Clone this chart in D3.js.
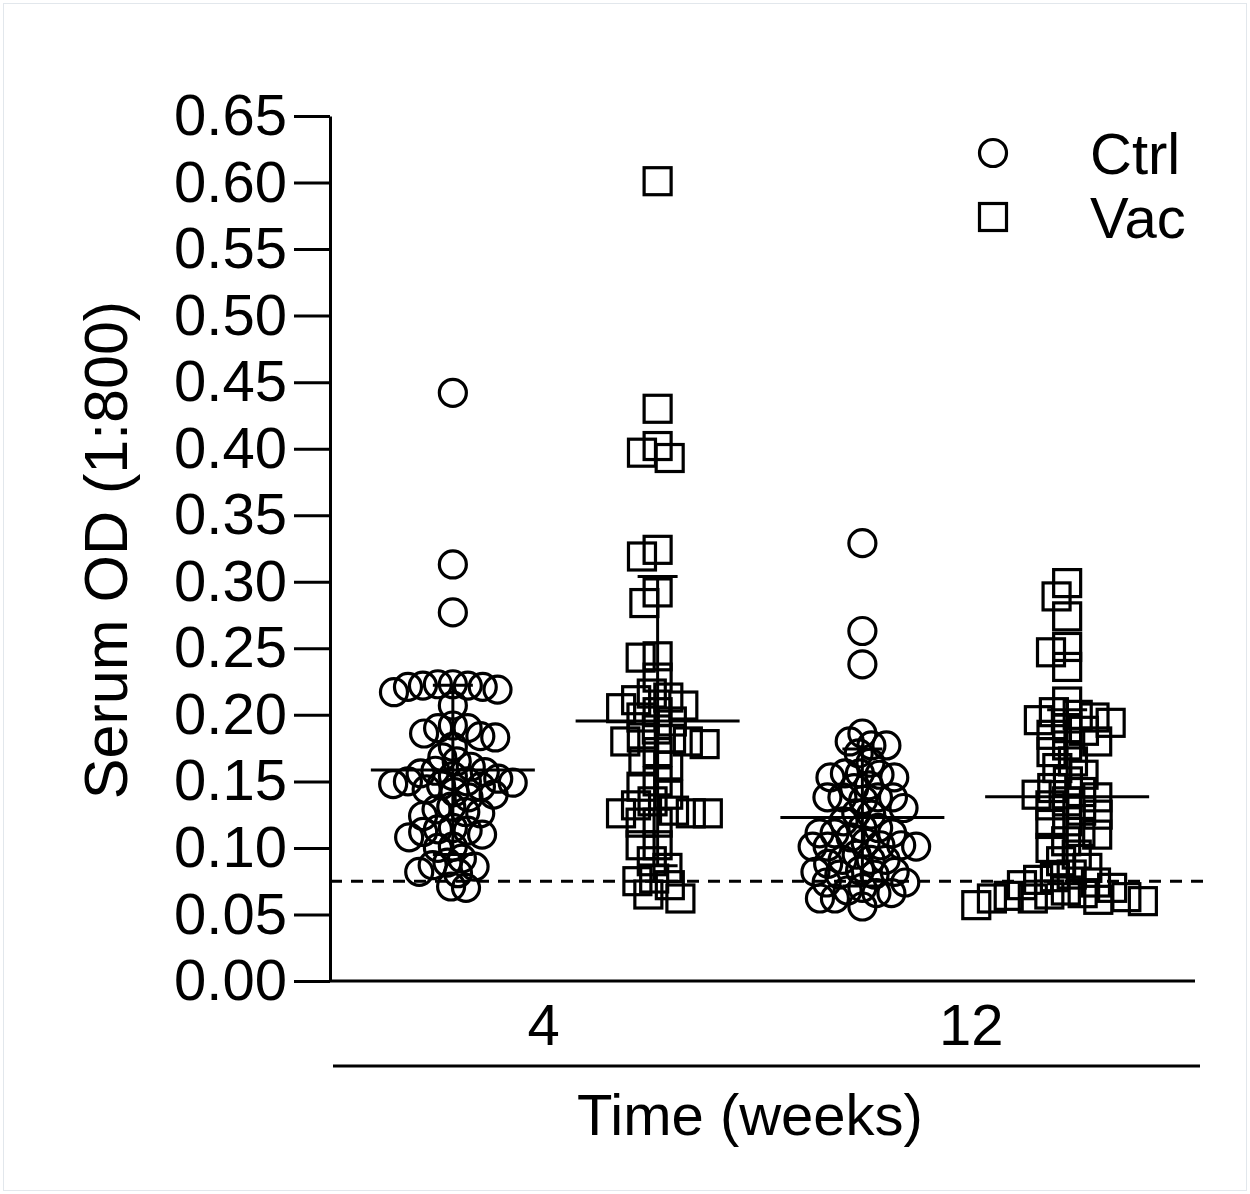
<!DOCTYPE html>
<html>
<head>
<meta charset="utf-8">
<script src="https://cdn.jsdelivr.net/npm/d3@7"></script>
<style>
  body { margin: 0; background: #fff; }
  svg { display: block; }
  text { font-family: "Liberation Sans", Arial, sans-serif; fill: #000; }
</style>
</head>
<body>
<script>
// Serum OD (1:800) per animal, grouped by treatment and time point
const groupNames  = ["Ctrl 4", "Vac 4", "Ctrl 12", "Vac 12"];
const groupSeries = ["Ctrl", "Vac", "Ctrl", "Vac"];
const weekLabels  = ["4", "12"];
const seriesNames = ["Ctrl", "Vac"];

const ctrlWeek4 = [
  0.442, 0.313, 0.277,
  0.222, 0.222, 0.221, 0.223, 0.221, 0.223,
  0.219, 0.217, 0.207,
  0.190, 0.192, 0.186, 0.190, 0.183, 0.184,
  0.176, 0.168, 0.165,
  0.150, 0.148, 0.149, 0.158, 0.161, 0.157, 0.156, 0.154, 0.152,
  0.146, 0.144, 0.147, 0.150, 0.142,
  0.138, 0.140,
  0.131, 0.129, 0.126, 0.124, 0.127,
  0.114, 0.112, 0.110, 0.113, 0.108, 0.115,
  0.101, 0.100,
  0.089, 0.092, 0.087, 0.086,
  0.082, 0.081,
  0.070, 0.071
];

const vacWeek4 = [
  0.601, 0.430, 0.402, 0.397, 0.393, 0.324, 0.319, 0.292, 0.284,
  0.244, 0.243, 0.228, 0.216, 0.213, 0.211, 0.207, 0.205, 0.202, 0.198,
  0.195, 0.189, 0.183, 0.182, 0.180, 0.180, 0.178, 0.172, 0.165, 0.162,
  0.150, 0.146, 0.140, 0.135, 0.132, 0.128, 0.126, 0.126, 0.126, 0.119,
  0.119, 0.102, 0.102, 0.090, 0.085, 0.077, 0.075, 0.072, 0.065, 0.062
];

const ctrlWeek12 = [
  0.329, 0.263, 0.238,
  0.186, 0.171, 0.177, 0.180, 0.177,
  0.164, 0.153, 0.153, 0.156, 0.156, 0.155,
  0.147, 0.145, 0.136, 0.138, 0.138, 0.138, 0.138, 0.130,
  0.126, 0.125, 0.120,
  0.115, 0.111, 0.111, 0.111, 0.115, 0.108,
  0.102, 0.102, 0.104, 0.101, 0.101, 0.101,
  0.095, 0.091, 0.091, 0.091, 0.088,
  0.082, 0.082, 0.083, 0.080, 0.080,
  0.074, 0.074, 0.070, 0.068, 0.066, 0.066, 0.062, 0.062, 0.056
];

const vacWeek12 = [
  0.299, 0.289, 0.274, 0.251, 0.247, 0.236,
  0.210, 0.202, 0.200, 0.198, 0.196, 0.194, 0.190, 0.188, 0.185, 0.180,
  0.177, 0.172, 0.165, 0.160, 0.155, 0.150, 0.145, 0.142, 0.140, 0.138,
  0.135, 0.132, 0.128, 0.125, 0.120, 0.118, 0.112, 0.110, 0.105, 0.100,
  0.095, 0.090, 0.085, 0.080, 0.078, 0.076, 0.074, 0.072, 0.070, 0.068,
  0.066, 0.065, 0.064, 0.063, 0.062, 0.062, 0.061, 0.060, 0.057
];

const groupValues = [ctrlWeek4, vacWeek4, ctrlWeek12, vacWeek12];
const yTicks = [0, 0.05, 0.10, 0.15, 0.20, 0.25, 0.30, 0.35, 0.40, 0.45, 0.50, 0.55, 0.60, 0.65];
const cutoffOD = 0.075;

const W = 1250, H = 1194;
const FONT = 58;

const svg = d3.select("body").append("svg")
  .attr("width", W).attr("height", H);

svg.append("rect")
  .attr("x", 3.5).attr("y", 3.5).attr("width", W - 7).attr("height", H - 7)
  .attr("fill", "#fff").attr("stroke", "#e2e7ec").attr("stroke-width", 1);

const y = d3.scaleLinear().domain([0, 0.65]).range([981, 116]);
const x = d3.scalePoint().domain(groupNames).range([330, 1190]).padding(0.6);
const xWeek = d3.scaleBand().domain(weekLabels).range([330, 1185]);

// Greedy beeswarm: each point takes the free horizontal slot nearest the group centre
function swarmOffsets(values, diameter) {
  const pts = values.map((v, i) => ({ i, py: y(v) }))
    .sort((a, b) => a.py - b.py || a.i - b.i);
  const placed = [];
  const out = new Array(values.length);
  for (const p of pts) {
    const blocked = [];
    for (const q of placed) {
      const dy = Math.abs(q.py - p.py);
      if (dy < diameter) {
        const w = Math.sqrt(diameter * diameter - dy * dy);
        blocked.push([q.px - w, q.px + w]);
      }
    }
    const candidates = [0, ...blocked.flat()]
      .sort((a, b) => Math.abs(a) - Math.abs(b));
    const free = candidates.find(c =>
      blocked.every(([lo, hi]) => c <= lo + 1e-6 || c >= hi - 1e-6));
    p.px = free;
    placed.push(p);
    out[p.i] = free;
  }
  return out;
}

// Y axis
const yAxis = svg.append("g")
  .attr("transform", "translate(330,0)")
  .call(d3.axisLeft(y).tickValues(yTicks).tickSize(36).tickSizeOuter(0)
    .tickPadding(7).tickFormat(d3.format(".2f")));
yAxis.select(".domain").attr("stroke", "#000").attr("stroke-width", 3);
yAxis.selectAll(".tick line").attr("stroke", "#000").attr("stroke-width", 3);
yAxis.selectAll(".tick text")
  .attr("font-size", FONT).attr("fill", "#000")
  .attr("font-family", "'Liberation Sans', Arial, sans-serif");

// X axis baseline
svg.append("line")
  .attr("x1", 330).attr("x2", 1195).attr("y1", y(0)).attr("y2", y(0))
  .attr("stroke", "#000").attr("stroke-width", 3);

// Week labels and grouping bar
svg.append("g").selectAll("text")
  .data(weekLabels).join("text")
  .attr("x", d => xWeek(d) + xWeek.bandwidth() / 2)
  .attr("y", 1045)
  .attr("text-anchor", "middle")
  .attr("font-size", FONT)
  .text(d => d);

svg.append("line")
  .attr("x1", 333).attr("x2", 1200).attr("y1", 1066).attr("y2", 1066)
  .attr("stroke", "#000").attr("stroke-width", 3);

svg.append("text")
  .attr("x", 750).attr("y", 1135)
  .attr("text-anchor", "middle")
  .attr("font-size", FONT)
  .text("Time (weeks)");

svg.append("text")
  .attr("transform", "translate(127,550) rotate(-90)")
  .attr("text-anchor", "middle")
  .attr("font-size", 61)
  .text("Serum OD (1:800)");

// Cut-off line
svg.append("line")
  .attr("x1", 330).attr("x2", 1210)
  .attr("y1", y(cutoffOD)).attr("y2", y(cutoffOD))
  .attr("stroke", "#000").attr("stroke-width", 3)
  .attr("stroke-dasharray", "12,9");

const R = 13.5;      // circle radius
const S = 27;        // square side

function drawMarker(sel, series) {
  if (series === "Ctrl") {
    sel.append("circle").attr("r", R);
  } else {
    sel.append("rect").attr("x", -S / 2).attr("y", -S / 2)
      .attr("width", S).attr("height", S);
  }
}

const plot = svg.append("g");

groupNames.forEach((g, gi) => {
  const vals = groupValues[gi];
  const series = groupSeries[gi];
  const offsets = swarmOffsets(vals, series === "Ctrl" ? 15 : 17);
  const cx = x(g);

  const pts = plot.append("g")
    .attr("fill", "none").attr("stroke", "#000").attr("stroke-width", 3.2)
    .selectAll("g").data(vals).join("g")
    .attr("transform", (d, i) => `translate(${cx + offsets[i]},${y(d)})`);
  pts.each(function () { drawMarker(d3.select(this), series); });

  // Mean with SD error bar
  const m = d3.mean(vals);
  const sd = d3.deviation(vals);
  const bars = plot.append("g").attr("stroke", "#000").attr("stroke-width", 3);
  bars.append("line")
    .attr("x1", cx - 82).attr("x2", cx + 82)
    .attr("y1", y(m)).attr("y2", y(m));
  bars.append("line")
    .attr("x1", cx).attr("x2", cx)
    .attr("y1", y(m + sd)).attr("y2", y(m - sd));
  [m + sd, m - sd].forEach(v => {
    bars.append("line")
      .attr("x1", cx - 20).attr("x2", cx + 20)
      .attr("y1", y(v)).attr("y2", y(v));
  });
});

// Legend
const legend = svg.append("g");
seriesNames.forEach((s, i) => {
  const row = legend.append("g").attr("transform", `translate(993,${153 + i * 64})`);
  const mk = row.append("g").attr("fill", "none").attr("stroke", "#000").attr("stroke-width", 3.2);
  drawMarker(mk, s);
  row.append("text")
    .attr("x", 97).attr("y", 21)
    .attr("font-size", FONT)
    .text(s);
});
</script>
</body>
</html>
